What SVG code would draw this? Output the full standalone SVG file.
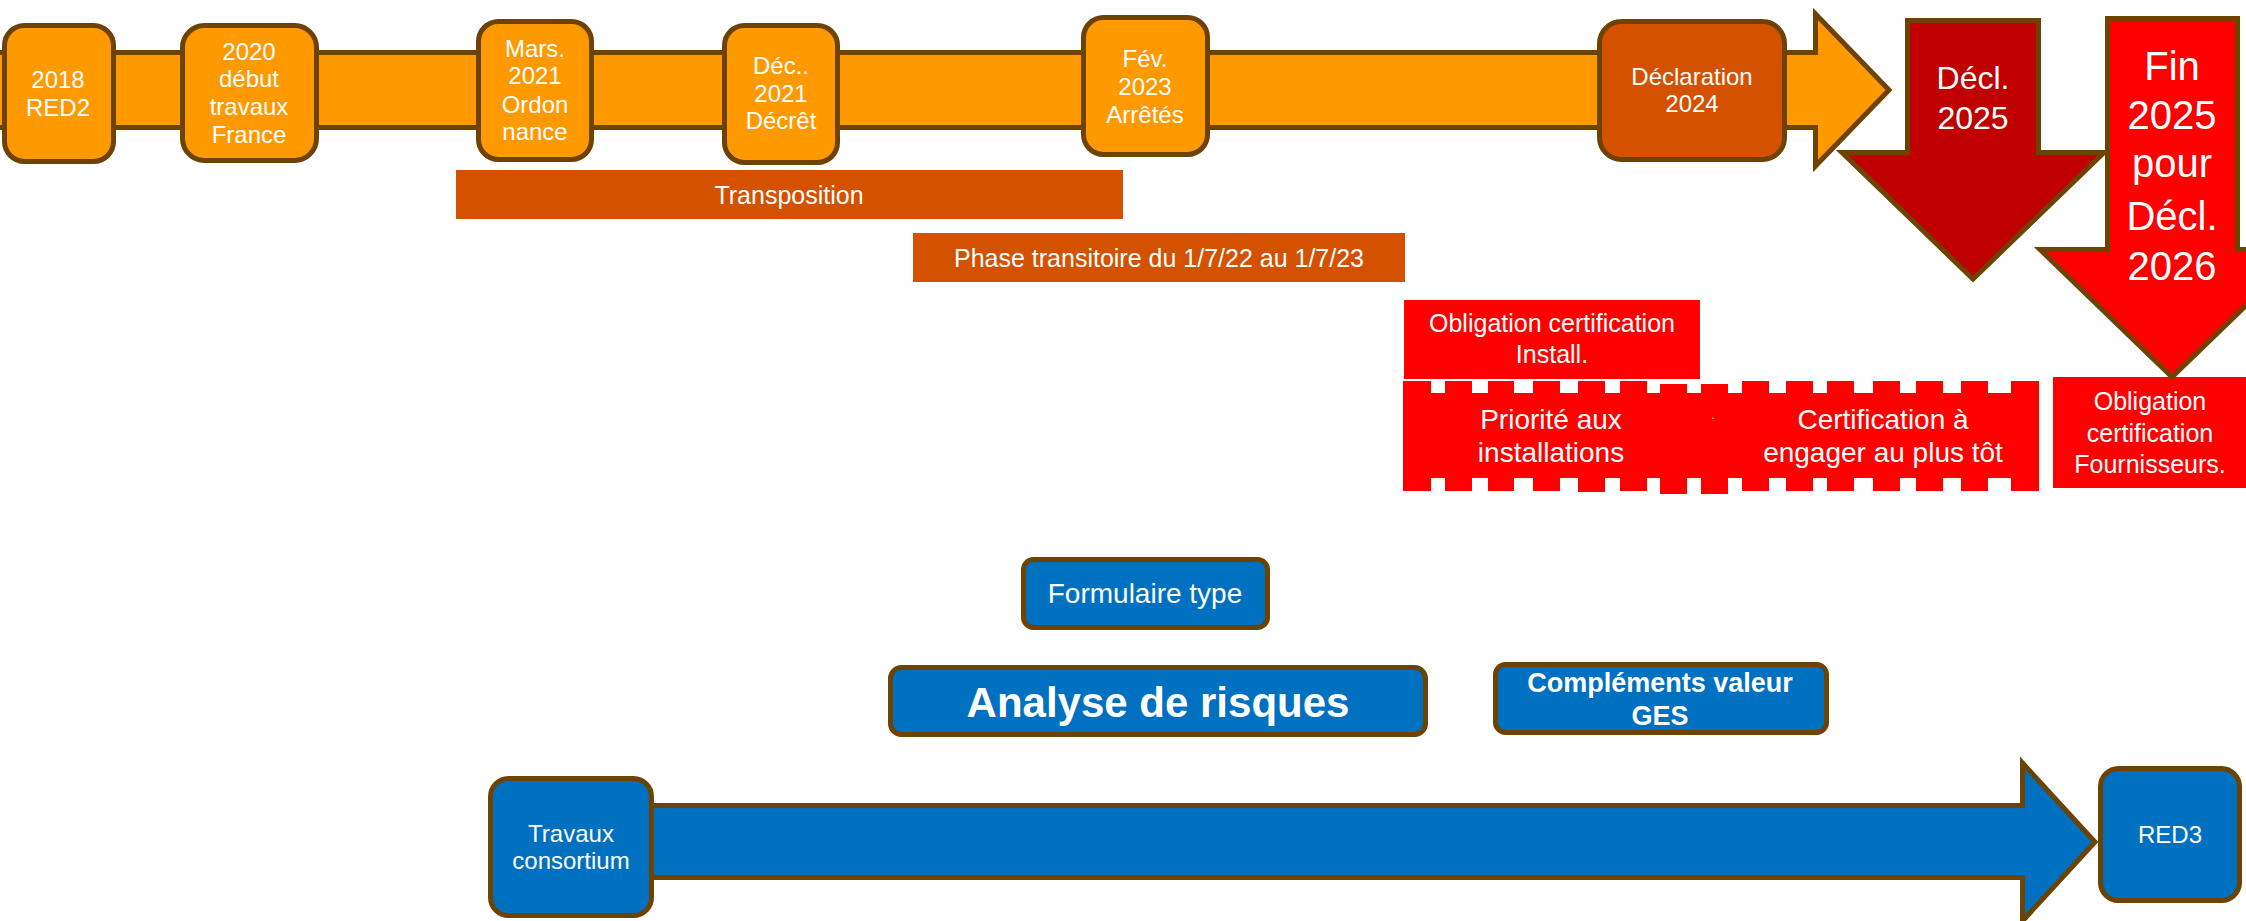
<svg xmlns="http://www.w3.org/2000/svg" width="2246" height="921" viewBox="0 0 2246 921">
<style>
text{font-family:"Liberation Sans",Arial,sans-serif;fill:#fff;text-anchor:middle}
.ob{fill:#FF9900;stroke:#6E4200;stroke-width:5}
.dk{fill:#D45100;stroke:#6E4200;stroke-width:5}
.bl{fill:#0070C0;stroke:#6E4200;stroke-width:5}
.rd{fill:#FF0000}
.t24{font-size:24px}
.t25{font-size:25px}
.t28{font-size:28px}
</style>
<rect width="2246" height="921" fill="#fff"/>
<g id="connectors">
  <path class="ob" d="M-5 52.5 H1815.5 V14 L1889 90 L1815.5 166 V127.5 H-5 Z"/>
  <path class="bl" d="M600 805.5 H2022.5 V763 L2095 842 L2022.5 921 V877.5 H600 Z"/>
</g>
<g id="n-transposition">
  <rect x="456" y="170" width="667" height="49" fill="#D45100"/>
  <text class="t25" x="789" y="204">Transposition</text>
</g>
<g id="n-phase">
  <rect x="913" y="233" width="492" height="49" fill="#D45100"/>
  <text class="t25" x="1159" y="267">Phase transitoire du 1/7/22 au 1/7/23</text>
</g>
<g id="n-red2">
  <rect class="ob" x="4.5" y="25.5" width="109" height="136" rx="20"/>
  <text class="t24" x="58" y="88">2018</text>
  <text class="t24" x="58" y="116">RED2</text>
</g>
<g id="n-2020">
  <rect class="ob" x="182.5" y="25.5" width="134" height="135" rx="22"/>
  <text class="t24" x="249" y="60">2020</text>
  <text class="t24" x="249" y="87">début</text>
  <text class="t24" x="249" y="115">travaux</text>
  <text class="t24" x="249" y="143">France</text>
</g>
<g id="n-mars">
  <rect class="ob" x="478.5" y="21.5" width="113" height="138" rx="20"/>
  <text class="t24" x="535" y="57">Mars.</text>
  <text class="t24" x="535" y="84">2021</text>
  <text class="t24" x="535" y="113">Ordon</text>
  <text class="t24" x="535" y="140">nance</text>
</g>
<g id="n-dec">
  <rect class="ob" x="724.5" y="25.5" width="113" height="137" rx="20"/>
  <text class="t24" x="781" y="74">Déc..</text>
  <text class="t24" x="781" y="102">2021</text>
  <text class="t24" x="781" y="129">Décrêt</text>
</g>
<g id="n-fev">
  <rect class="ob" x="1083.5" y="17.5" width="124" height="137" rx="20"/>
  <text class="t24" x="1145" y="67">Fév.</text>
  <text class="t24" x="1145" y="95">2023</text>
  <text class="t24" x="1145" y="123">Arrêtés</text>
</g>
<g id="n-decl2024">
  <rect class="dk" x="1599.5" y="21.5" width="185" height="138" rx="22"/>
  <text class="t24" x="1692" y="85">Déclaration</text>
  <text class="t24" x="1692" y="112">2024</text>
</g>
<g id="n-oblig-fourn">
  <rect class="rd" x="2053" y="377" width="200" height="111"/>
  <text class="t25" x="2150" y="410">Obligation</text>
  <text class="t25" x="2150" y="442">certification</text>
  <text class="t25" x="2150" y="473">Fournisseurs.</text>
</g>
<g id="n-fin2025">
  <path d="M2107.5 18.5 H2237.5 V249.5 H2304 L2172 377 L2040 249.5 H2107.5 Z" fill="#FF0000" stroke="#6E4200" stroke-width="5"/>
  <text x="2172" y="80" style="font-size:40px">Fin</text>
  <text x="2172" y="129" style="font-size:40px">2025</text>
  <text x="2172" y="177" style="font-size:40px">pour</text>
  <text x="2172" y="230" style="font-size:40px">Décl.</text>
  <text x="2172" y="280" style="font-size:40px">2026</text>
</g>
<g id="n-decl2025">
  <path d="M1907.5 20.5 H2038.5 V152.5 H2104 L1973 279 L1842 152.5 H1907.5 Z" fill="#C00000" stroke="#6E4200" stroke-width="5"/>
  <text x="1973" y="89" style="font-size:32px">Décl.</text>
  <text x="1973" y="129" style="font-size:32px">2025</text>
</g>
<g id="n-oblig-install">
  <rect class="rd" x="1404" y="300" width="296" height="79"/>
  <text class="t25" x="1552" y="332">Obligation certification</text>
  <text class="t25" x="1552" y="363">Install.</text>
</g>
<g id="n-banner">
  <rect class="rd" x="1403" y="393" width="636" height="85"/>
  <g class="rd">
    <rect x="1403" y="381" width="28" height="13"/><rect x="1445" y="381" width="27" height="13"/><rect x="1488" y="381" width="26" height="13"/><rect x="1533" y="381" width="27" height="13"/><rect x="1578" y="381" width="27" height="13"/><rect x="1620" y="381" width="27" height="13"/><rect x="1660" y="384" width="27" height="10"/><rect x="1701" y="384" width="27" height="10"/><rect x="1742" y="381" width="27" height="13"/><rect x="1786" y="381" width="27" height="13"/><rect x="1827" y="381" width="27" height="13"/><rect x="1873" y="381" width="27" height="13"/><rect x="1916" y="381" width="27" height="13"/><rect x="1961" y="381" width="27" height="13"/><rect x="2011" y="381" width="28" height="13"/>
    <rect x="1403" y="477" width="28" height="14"/><rect x="1445" y="477" width="27" height="14"/><rect x="1488" y="477" width="26" height="14"/><rect x="1533" y="477" width="27" height="14"/><rect x="1578" y="477" width="27" height="15"/><rect x="1620" y="477" width="27" height="14"/><rect x="1660" y="477" width="27" height="17"/><rect x="1701" y="477" width="27" height="17"/><rect x="1742" y="477" width="27" height="14"/><rect x="1786" y="477" width="27" height="14"/><rect x="1827" y="477" width="27" height="14"/><rect x="1873" y="477" width="27" height="14"/><rect x="1916" y="477" width="27" height="14"/><rect x="1961" y="477" width="27" height="14"/><rect x="2011" y="477" width="28" height="14"/>
  </g>
  <text class="t28" x="1551" y="429">Priorité aux</text>
  <text class="t28" x="1551" y="462">installations</text>
  <text x="1713" y="419" style="font-size:12px">.</text>
  <text class="t28" x="1883" y="429">Certification à</text>
  <text class="t28" x="1883" y="462">engager au plus tôt</text>
</g>
<g id="n-formulaire">
  <rect class="bl" x="1023.5" y="559.5" width="244" height="68" rx="10"/>
  <text class="t28" x="1145" y="603">Formulaire type</text>
</g>
<g id="n-analyse">
  <rect class="bl" x="890.5" y="667.5" width="535" height="67" rx="11"/>
  <text x="1158" y="717" style="font-size:42px;font-weight:bold">Analyse de risques</text>
</g>
<g id="n-complements">
  <rect class="bl" x="1495.5" y="664.5" width="331" height="68" rx="10"/>
  <text x="1660" y="692" style="font-size:27px;font-weight:bold">Compléments valeur</text>
  <text x="1660" y="725" style="font-size:27px;font-weight:bold">GES</text>
</g>
<g id="n-travaux">
  <rect class="bl" x="490.5" y="778.5" width="161" height="137" rx="18"/>
  <text class="t24" x="571" y="842">Travaux</text>
  <text class="t24" x="571" y="869">consortium</text>
</g>
<g id="n-red3">
  <rect class="bl" x="2100.5" y="768.5" width="139" height="132" rx="18"/>
  <text class="t24" x="2170" y="843">RED3</text>
</g>
</svg>
